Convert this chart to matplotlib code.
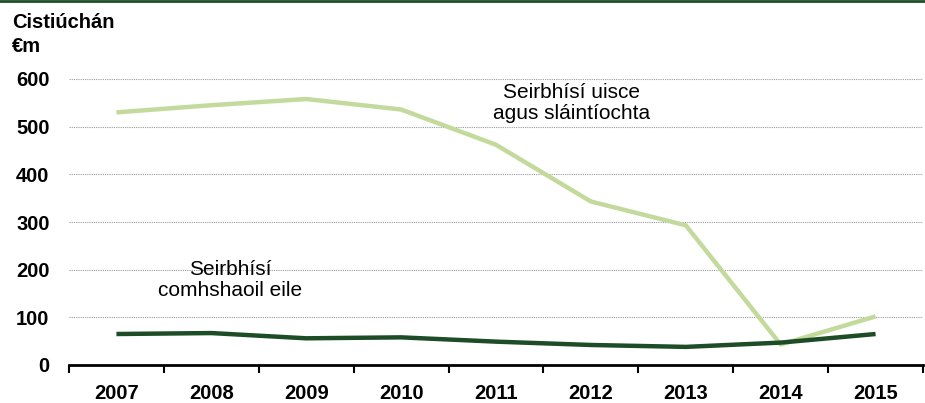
import matplotlib.pyplot as plt
from matplotlib.lines import Line2D

plt.rcParams['font.family'] = ['Liberation Sans', 'DejaVu Sans']

years = ['2007', '2008', '2009', '2010', '2011', '2012', '2013', '2014', '2015']
uisce = [530, 545, 558, 536, 462, 343, 293, 43, 102]
eile = [65, 67, 56, 58, 49, 42, 38, 47, 65]

light = '#c3da9c'
dark = '#1d4d26'

fig = plt.figure(figsize=(9.25, 4.03), dpi=100)
ax = fig.add_axes([69/925, 1 - 365/403, 854/925, (365 - 79)/403])

x = range(len(years))
ax.plot(x, uisce, color=light, lw=3.2, solid_capstyle='butt')
ax.plot(x, eile, color=dark, lw=3.2, solid_capstyle='butt')

ax.set_xlim(-0.5, len(years) - 0.5)
ax.set_ylim(0, 600)
ax.set_yticks(range(0, 601, 100))
ax.set_yticklabels([str(v) for v in range(0, 601, 100)], fontsize=14.5, fontweight='bold')
ax.tick_params(axis='y', length=0, pad=14)
ax.yaxis.grid(True, linestyle=(0, (1, 1)), color='#999999', lw=0.8)
ax.set_axisbelow(True)

ax.set_xticks(list(x))
ax.set_xticklabels(years, fontsize=14.5, fontweight='bold')
ax.set_xticks([i - 0.5 for i in range(len(years) + 1)], minor=True)
ax.tick_params(axis='x', which='major', length=0, pad=14)
ax.tick_params(axis='x', which='minor', length=6, width=1.5, direction='out')

for s in ['left', 'right', 'top']:
    ax.spines[s].set_visible(False)
ax.spines['bottom'].set_linewidth(2)

ax.text(4.8, 550, 'Seirbhísí uisce\nagus sláintíochta', ha='center', va='center',
        fontsize=15, linespacing=1.1)
ax.text(1.2, 178, 'Seirbhísí\ncomhshaoil eile', ha='center', va='center',
        fontsize=15, linespacing=1.1)

fig.text(12/925, 1 - 23/403, 'Cistiúchán', fontsize=14.5, fontweight='bold', va='center')
fig.text(12/925, 1 - 46/403, '€m', fontsize=14.5, fontweight='bold', va='center')

fig.add_artist(Line2D([0, 1], [1 - 0.5/403, 1 - 0.5/403], color=dark, lw=2,
                      transform=fig.transFigure))

fig.savefig('out.png', dpi=100)
